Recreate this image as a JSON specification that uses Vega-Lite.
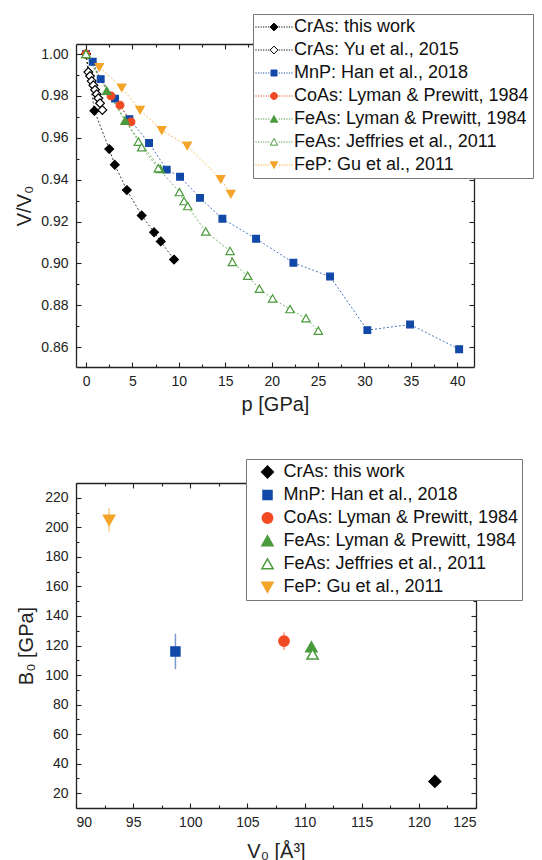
{
  "$schema": "https://vega.github.io/schema/vega-lite/v6.json",
  "padding": {"left": 14, "top": 13, "right": 2, "bottom": 2},
  "background": "white",
  "spacing": 44,
  "config": {
    "view": {"stroke": null},
    "axis": {
      "grid": false,
      "domainColor": "#222222",
      "domainWidth": 1.3,
      "tickColor": "#222222",
      "tickWidth": 1.1,
      "labelFont": "Liberation Sans",
      "labelFontSize": 14,
      "labelColor": "#222222",
      "titleFont": "Liberation Sans",
      "titleFontSize": 20,
      "titleFontWeight": "normal",
      "titleColor": "#222222"
    },
    "legend": {
      "labelFont": "Liberation Sans",
      "labelFontSize": 18,
      "labelColor": "#111111",
      "labelLimit": 400
    }
  },
  "datasets": {
    "eos": [
      {"series": "CrAs: this work", "p": 0, "v": 1.0},
      {"series": "CrAs: this work", "p": 0.9, "v": 0.9729},
      {"series": "CrAs: this work", "p": 2.5, "v": 0.9546},
      {"series": "CrAs: this work", "p": 3.1, "v": 0.9471},
      {"series": "CrAs: this work", "p": 4.4, "v": 0.935},
      {"series": "CrAs: this work", "p": 6.0, "v": 0.9229},
      {"series": "CrAs: this work", "p": 7.33, "v": 0.9149},
      {"series": "CrAs: this work", "p": 8.05, "v": 0.9105},
      {"series": "CrAs: this work", "p": 9.48, "v": 0.9018},
      {"series": "CrAs: Yu et al., 2015", "p": 0, "v": 1.0},
      {"series": "CrAs: Yu et al., 2015", "p": 0.25, "v": 0.9914},
      {"series": "CrAs: Yu et al., 2015", "p": 0.43, "v": 0.9895},
      {"series": "CrAs: Yu et al., 2015", "p": 0.61, "v": 0.9871},
      {"series": "CrAs: Yu et al., 2015", "p": 0.79, "v": 0.9851},
      {"series": "CrAs: Yu et al., 2015", "p": 0.97, "v": 0.9829},
      {"series": "CrAs: Yu et al., 2015", "p": 1.15, "v": 0.9808},
      {"series": "CrAs: Yu et al., 2015", "p": 1.33, "v": 0.9789},
      {"series": "CrAs: Yu et al., 2015", "p": 1.51, "v": 0.9765},
      {"series": "CrAs: Yu et al., 2015", "p": 1.76, "v": 0.9733},
      {"series": "MnP: Han et al., 2018", "p": 0, "v": 1.0},
      {"series": "MnP: Han et al., 2018", "p": 0.72, "v": 0.9963},
      {"series": "MnP: Han et al., 2018", "p": 1.58, "v": 0.988},
      {"series": "MnP: Han et al., 2018", "p": 3.13, "v": 0.9787},
      {"series": "MnP: Han et al., 2018", "p": 4.67, "v": 0.9689},
      {"series": "MnP: Han et al., 2018", "p": 6.79, "v": 0.9575},
      {"series": "MnP: Han et al., 2018", "p": 8.69, "v": 0.9448},
      {"series": "MnP: Han et al., 2018", "p": 10.13, "v": 0.9414},
      {"series": "MnP: Han et al., 2018", "p": 12.28, "v": 0.9313},
      {"series": "MnP: Han et al., 2018", "p": 14.69, "v": 0.9213},
      {"series": "MnP: Han et al., 2018", "p": 18.32, "v": 0.9118},
      {"series": "MnP: Han et al., 2018", "p": 22.34, "v": 0.9003},
      {"series": "MnP: Han et al., 2018", "p": 26.29, "v": 0.8937},
      {"series": "MnP: Han et al., 2018", "p": 30.31, "v": 0.8681},
      {"series": "MnP: Han et al., 2018", "p": 34.91, "v": 0.8708},
      {"series": "MnP: Han et al., 2018", "p": 40.2, "v": 0.859},
      {"series": "CoAs: Lyman & Prewitt, 1984", "p": 0, "v": 1.0},
      {"series": "CoAs: Lyman & Prewitt, 1984", "p": 2.69, "v": 0.98},
      {"series": "CoAs: Lyman & Prewitt, 1984", "p": 3.66, "v": 0.9756},
      {"series": "CoAs: Lyman & Prewitt, 1984", "p": 4.85, "v": 0.9676},
      {"series": "FeAs: Lyman & Prewitt, 1984", "p": 0, "v": 1.0},
      {"series": "FeAs: Lyman & Prewitt, 1984", "p": 2.23, "v": 0.9824},
      {"series": "FeAs: Lyman & Prewitt, 1984", "p": 4.2, "v": 0.9681},
      {"series": "FeAs: Lyman & Prewitt, 1984", "p": 8.0, "v": 0.945},
      {"series": "FeAs: Jeffries et al., 2011", "p": 0, "v": 1.0},
      {"series": "FeAs: Jeffries et al., 2011", "p": 5.64, "v": 0.9581},
      {"series": "FeAs: Jeffries et al., 2011", "p": 6.0, "v": 0.9554},
      {"series": "FeAs: Jeffries et al., 2011", "p": 7.79, "v": 0.9454},
      {"series": "FeAs: Jeffries et al., 2011", "p": 10.06, "v": 0.934},
      {"series": "FeAs: Jeffries et al., 2011", "p": 10.56, "v": 0.9297},
      {"series": "FeAs: Jeffries et al., 2011", "p": 10.96, "v": 0.9273},
      {"series": "FeAs: Jeffries et al., 2011", "p": 12.9, "v": 0.9152},
      {"series": "FeAs: Jeffries et al., 2011", "p": 15.52, "v": 0.9059},
      {"series": "FeAs: Jeffries et al., 2011", "p": 15.77, "v": 0.9006},
      {"series": "FeAs: Jeffries et al., 2011", "p": 17.42, "v": 0.894},
      {"series": "FeAs: Jeffries et al., 2011", "p": 18.68, "v": 0.8878},
      {"series": "FeAs: Jeffries et al., 2011", "p": 20.1, "v": 0.8832},
      {"series": "FeAs: Jeffries et al., 2011", "p": 21.98, "v": 0.8781},
      {"series": "FeAs: Jeffries et al., 2011", "p": 23.7, "v": 0.8737},
      {"series": "FeAs: Jeffries et al., 2011", "p": 25.03, "v": 0.8678},
      {"series": "FeP: Gu et al., 2011", "p": 1.43, "v": 0.9938},
      {"series": "FeP: Gu et al., 2011", "p": 3.84, "v": 0.984},
      {"series": "FeP: Gu et al., 2011", "p": 5.82, "v": 0.9733},
      {"series": "FeP: Gu et al., 2011", "p": 8.15, "v": 0.9636},
      {"series": "FeP: Gu et al., 2011", "p": 10.9, "v": 0.9562},
      {"series": "FeP: Gu et al., 2011", "p": 14.5, "v": 0.9403},
      {"series": "FeP: Gu et al., 2011", "p": 15.6, "v": 0.9332}
    ],
    "bulk": [
      {"series": "CrAs: this work", "V0": 121.4, "B0": 28, "lo": 26, "hi": 30},
      {"series": "MnP: Han et al., 2018", "V0": 98.7, "B0": 116, "lo": 104, "hi": 128},
      {"series": "CoAs: Lyman & Prewitt, 1984", "V0": 108.2, "B0": 123, "lo": 117, "hi": 129},
      {"series": "FeAs: Lyman & Prewitt, 1984", "V0": 110.6, "B0": 119, "lo": 116, "hi": 122},
      {"series": "FeAs: Jeffries et al., 2011", "V0": 110.7, "B0": 114, "lo": 111, "hi": 117},
      {"series": "FeP: Gu et al., 2011", "V0": 92.9, "B0": 205, "lo": 197, "hi": 213}
    ]
  },
  "vconcat": [
    {
      "width": 398,
      "height": 323,
      "layer": [
        {
          "data": {"name": "eos"},
          "mark": {"type": "line", "strokeWidth": 1, "strokeDash": [2, 2], "opacity": 0.75},
          "encoding": {
            "x": {"field": "p", "type": "quantitative",
              "scale": {"domain": [-1.08, 41.8], "nice": false, "zero": false},
              "axis": {"orient": "bottom", "title": "p [GPa]", "titlePadding": 6,
                "values": [0, 2.5, 5, 7.5, 10, 12.5, 15, 17.5, 20, 22.5, 25, 27.5, 30, 32.5, 35, 37.5, 40],
                "labelExpr": "datum.value % 5 === 0 ? datum.label : ''",
                "tickSize": -5, "labelPadding": 12,
                "tickDash": {"condition": {"test": "datum.value % 5 !== 0", "value": [3, 10]}, "value": [8, 0]}}},
            "y": {"field": "v", "type": "quantitative",
              "scale": {"domain": [0.8505, 1.0048], "nice": false, "zero": false},
              "axis": {"orient": "left", "title": "V/V₀", "titlePadding": 6,
                "values": [0.86, 0.87, 0.88, 0.89, 0.9, 0.91, 0.92, 0.93, 0.94, 0.95, 0.96, 0.97, 0.98, 0.99, 1.0],
                "labelExpr": "round(datum.value * 100) % 2 === 0 ? format(datum.value, '.2f') : ''",
                "tickSize": -5, "labelPadding": 13,
                "tickDash": {"condition": {"test": "round(datum.value * 100) % 2 !== 0", "value": [3, 10]}, "value": [8, 0]}}},
            "stroke": {"field": "series", "type": "nominal",
              "scale": {"domain": ["CrAs: this work", "CrAs: Yu et al., 2015", "MnP: Han et al., 2018", "CoAs: Lyman & Prewitt, 1984", "FeAs: Lyman & Prewitt, 1984", "FeAs: Jeffries et al., 2011", "FeP: Gu et al., 2011"],
                "range": ["#000000", "#000000", "#1249a8", "#f04a23", "#4b9a3c", "#4b9a3c", "#f4a428"]},
              "legend": null}
          }
        },
        {
          "data": {"name": "eos"},
          "mark": {"type": "point", "size": 45, "strokeWidth": 1.2, "opacity": 1},
          "encoding": {
            "x": {"field": "p", "type": "quantitative", "axis": null},
            "y": {"field": "v", "type": "quantitative", "axis": null},
            "shape": {"field": "series", "type": "nominal",
              "scale": {"domain": ["CrAs: this work", "CrAs: Yu et al., 2015", "MnP: Han et al., 2018", "CoAs: Lyman & Prewitt, 1984", "FeAs: Lyman & Prewitt, 1984", "FeAs: Jeffries et al., 2011", "FeP: Gu et al., 2011"],
                "range": ["M0,-1.3L1.3,0L0,1.3L-1.3,0Z", "M0,-1.3L1.3,0L0,1.3L-1.3,0Z", "M-1,-1H1V1H-1Z", "M-1.15,0A1.15,1.15,0,1,1,1.15,0A1.15,1.15,0,1,1,-1.15,0Z", "M0,-1.15L1.25,1.05L-1.25,1.05Z", "M0,-1.15L1.25,1.05L-1.25,1.05Z", "M0,1.15L1.25,-1.05L-1.25,-1.05Z"]},
              "legend": null},
            "stroke": {"field": "series", "type": "nominal",
              "scale": {"domain": ["CrAs: this work", "CrAs: Yu et al., 2015", "MnP: Han et al., 2018", "CoAs: Lyman & Prewitt, 1984", "FeAs: Lyman & Prewitt, 1984", "FeAs: Jeffries et al., 2011", "FeP: Gu et al., 2011"],
                "range": ["#000000", "#000000", "#1249a8", "#f04a23", "#4b9a3c", "#4b9a3c", "#f4a428"]},
              "legend": null},
            "fill": {"field": "series", "type": "nominal",
              "scale": {"domain": ["CrAs: this work", "CrAs: Yu et al., 2015", "MnP: Han et al., 2018", "CoAs: Lyman & Prewitt, 1984", "FeAs: Lyman & Prewitt, 1984", "FeAs: Jeffries et al., 2011", "FeP: Gu et al., 2011"],
                "range": ["#000000", "#ffffff", "#1249a8", "#f04a23", "#4b9a3c", "#ffffff", "#f4a428"]},
              "legend": null}
          }
        },
        {
          "data": {"name": "eos"},
          "transform": [{"filter": "datum.p > 1000"}],
          "mark": {"type": "point", "size": 36, "strokeWidth": 1, "opacity": 1},
          "encoding": {
            "x": {"field": "p", "type": "quantitative",
              "axis": {"orient": "top", "title": null, "labels": false,
                "values": [0, 2.5, 5, 7.5, 10, 12.5, 15, 17.5, 20, 22.5, 25, 27.5, 30, 32.5, 35, 37.5, 40],
                "tickSize": -5,
                "tickDash": {"condition": {"test": "datum.value % 5 !== 0", "value": [3, 10]}, "value": [8, 0]}}},
            "y": {"field": "v", "type": "quantitative",
              "axis": {"orient": "right", "title": null, "labels": false,
                "values": [0.86, 0.87, 0.88, 0.89, 0.9, 0.91, 0.92, 0.93, 0.94, 0.95, 0.96, 0.97, 0.98, 0.99, 1.0],
                "tickSize": -5,
                "tickDash": {"condition": {"test": "round(datum.value * 100) % 2 !== 0", "value": [3, 10]}, "value": [8, 0]}}},
            "shape": {"field": "series", "type": "nominal",
              "scale": {"domain": ["CrAs: this work", "CrAs: Yu et al., 2015", "MnP: Han et al., 2018", "CoAs: Lyman & Prewitt, 1984", "FeAs: Lyman & Prewitt, 1984", "FeAs: Jeffries et al., 2011", "FeP: Gu et al., 2011"],
                "range": [
                  "M-6.2,0h0.4M-5.35,0h0.4M-4.5,0h0.4M-3.65,0h0.4M-2.8,0h0.4M-1.95,0h0.4M1.55,0h0.4M2.4,0h0.4M3.25,0h0.4M4.1,0h0.4M4.95,0h0.4M5.8,0h0.4M0,-1.3L1.3,0L0,1.3L-1.3,0Z",
                  "M-6.2,0h0.4M-5.35,0h0.4M-4.5,0h0.4M-3.65,0h0.4M-2.8,0h0.4M-1.95,0h0.4M1.55,0h0.4M2.4,0h0.4M3.25,0h0.4M4.1,0h0.4M4.95,0h0.4M5.8,0h0.4M0,-1.3L1.3,0L0,1.3L-1.3,0Z",
                  "M-6.2,0h0.4M-5.35,0h0.4M-4.5,0h0.4M-3.65,0h0.4M-2.8,0h0.4M-1.95,0h0.4M1.55,0h0.4M2.4,0h0.4M3.25,0h0.4M4.1,0h0.4M4.95,0h0.4M5.8,0h0.4M-1,-1H1V1H-1Z",
                  "M-6.2,0h0.4M-5.35,0h0.4M-4.5,0h0.4M-3.65,0h0.4M-2.8,0h0.4M-1.95,0h0.4M1.55,0h0.4M2.4,0h0.4M3.25,0h0.4M4.1,0h0.4M4.95,0h0.4M5.8,0h0.4M-1.15,0A1.15,1.15,0,1,1,1.15,0A1.15,1.15,0,1,1,-1.15,0Z",
                  "M-6.2,0h0.4M-5.35,0h0.4M-4.5,0h0.4M-3.65,0h0.4M-2.8,0h0.4M-1.95,0h0.4M1.55,0h0.4M2.4,0h0.4M3.25,0h0.4M4.1,0h0.4M4.95,0h0.4M5.8,0h0.4M0,-1.15L1.25,1.05L-1.25,1.05Z",
                  "M-6.2,0h0.4M-5.35,0h0.4M-4.5,0h0.4M-3.65,0h0.4M-2.8,0h0.4M-1.95,0h0.4M1.55,0h0.4M2.4,0h0.4M3.25,0h0.4M4.1,0h0.4M4.95,0h0.4M5.8,0h0.4M0,-1.15L1.25,1.05L-1.25,1.05Z",
                  "M-6.2,0h0.4M-5.35,0h0.4M-4.5,0h0.4M-3.65,0h0.4M-2.8,0h0.4M-1.95,0h0.4M1.55,0h0.4M2.4,0h0.4M3.25,0h0.4M4.1,0h0.4M4.95,0h0.4M5.8,0h0.4M0,1.15L1.25,-1.05L-1.25,-1.05Z"
                ]},
              "legend": {"orient": "none", "legendX": 177, "legendY": -30, "title": null, "symbolSize": 36, "symbolStrokeWidth": 1, "symbolOffset": 8, "labelOffset": 11, "rowPadding": 5, "padding": 4, "fillColor": "white", "strokeColor": "#777777"}},
            "stroke": {"field": "series", "type": "nominal",
              "scale": {"domain": ["CrAs: this work", "CrAs: Yu et al., 2015", "MnP: Han et al., 2018", "CoAs: Lyman & Prewitt, 1984", "FeAs: Lyman & Prewitt, 1984", "FeAs: Jeffries et al., 2011", "FeP: Gu et al., 2011"],
                "range": ["#000000", "#000000", "#1249a8", "#f04a23", "#4b9a3c", "#4b9a3c", "#f4a428"]},
              "legend": {"orient": "none", "legendX": 177, "legendY": -30, "title": null, "symbolSize": 36, "symbolStrokeWidth": 1, "symbolOffset": 8, "labelOffset": 11, "rowPadding": 5, "padding": 4, "fillColor": "white", "strokeColor": "#777777"}},
            "fill": {"field": "series", "type": "nominal",
              "scale": {"domain": ["CrAs: this work", "CrAs: Yu et al., 2015", "MnP: Han et al., 2018", "CoAs: Lyman & Prewitt, 1984", "FeAs: Lyman & Prewitt, 1984", "FeAs: Jeffries et al., 2011", "FeP: Gu et al., 2011"],
                "range": ["#000000", "#ffffff", "#1249a8", "#f04a23", "#4b9a3c", "#ffffff", "#f4a428"]},
              "legend": {"orient": "none", "legendX": 177, "legendY": -30, "title": null, "symbolSize": 36, "symbolStrokeWidth": 1, "symbolOffset": 8, "labelOffset": 11, "rowPadding": 5, "padding": 4, "fillColor": "white", "strokeColor": "#777777"}}
          }
        }
      ],
      "resolve": {
        "scale": {"shape": "independent", "stroke": "independent", "fill": "independent"},
        "axis": {"x": "independent", "y": "independent"}
      }
    },
    {
      "width": 400,
      "height": 325,
      "data": {"name": "bulk"},
      "layer": [
        {
          "mark": {"type": "rule", "strokeWidth": 1.5, "opacity": 0.55},
          "encoding": {
            "x": {"field": "V0", "type": "quantitative",
              "scale": {"domain": [90, 125], "nice": false, "zero": false},
              "axis": {"orient": "top", "title": null, "labels": false,
                "values": [90, 92.5, 95, 97.5, 100, 102.5, 105, 107.5, 110, 112.5, 115, 117.5, 120, 122.5, 125],
                "tickSize": -5,
                "tickDash": {"condition": {"test": "datum.value % 5 !== 0", "value": [3, 10]}, "value": [8, 0]}}},
            "y": {"field": "lo", "type": "quantitative",
              "scale": {"domain": [10, 230], "nice": false, "zero": false},
              "axis": {"orient": "right", "title": null, "labels": false,
                "values": [20, 30, 40, 50, 60, 70, 80, 90, 100, 110, 120, 130, 140, 150, 160, 170, 180, 190, 200, 210, 220],
                "tickSize": -5,
                "tickDash": {"condition": {"test": "datum.value % 20 !== 0", "value": [3, 10]}, "value": [8, 0]}}},
            "y2": {"field": "hi"},
            "stroke": {"field": "series", "type": "nominal",
              "scale": {"domain": ["CrAs: this work", "MnP: Han et al., 2018", "CoAs: Lyman & Prewitt, 1984", "FeAs: Lyman & Prewitt, 1984", "FeAs: Jeffries et al., 2011", "FeP: Gu et al., 2011"],
                "range": ["#000000", "#1249a8", "#f04a23", "#4b9a3c", "#4b9a3c", "#f4a428"]},
              "legend": null}
          }
        },
        {
          "mark": {"type": "point", "size": 81, "strokeWidth": 1.5, "opacity": 1},
          "encoding": {
            "x": {"field": "V0", "type": "quantitative",
              "axis": {"orient": "bottom", "title": "V₀ [Å³]", "titlePadding": 12,
                "values": [90, 92.5, 95, 97.5, 100, 102.5, 105, 107.5, 110, 112.5, 115, 117.5, 120, 122.5, 125],
                "labelExpr": "datum.value % 5 === 0 ? datum.label : ''",
                "tickSize": -5, "labelPadding": 12,
                "tickDash": {"condition": {"test": "datum.value % 5 !== 0", "value": [3, 10]}, "value": [8, 0]}}},
            "y": {"field": "B0", "type": "quantitative",
              "axis": {"orient": "left", "title": "B₀ [GPa]", "titlePadding": 8,
                "values": [20, 30, 40, 50, 60, 70, 80, 90, 100, 110, 120, 130, 140, 150, 160, 170, 180, 190, 200, 210, 220],
                "labelExpr": "datum.value % 20 === 0 ? datum.label : ''",
                "tickSize": -5, "labelPadding": 13,
                "tickDash": {"condition": {"test": "datum.value % 20 !== 0", "value": [3, 10]}, "value": [8, 0]}}},
            "shape": {"field": "series", "type": "nominal",
              "scale": {"domain": ["CrAs: this work", "MnP: Han et al., 2018", "CoAs: Lyman & Prewitt, 1984", "FeAs: Lyman & Prewitt, 1984", "FeAs: Jeffries et al., 2011", "FeP: Gu et al., 2011"],
                "range": ["M0,-1.3L1.3,0L0,1.3L-1.3,0Z", "M-1,-1H1V1H-1Z", "M-1.15,0A1.15,1.15,0,1,1,1.15,0A1.15,1.15,0,1,1,-1.15,0Z", "M0,-1.15L1.25,1.05L-1.25,1.05Z", "M0,-1.15L1.25,1.05L-1.25,1.05Z", "M0,1.15L1.25,-1.05L-1.25,-1.05Z"]},
              "legend": {"orient": "none", "legendX": 170, "legendY": -24, "title": null, "symbolSize": 81, "symbolStrokeWidth": 1.5, "symbolOffset": 8.5, "labelOffset": 7, "rowPadding": 5, "padding": 4, "fillColor": "white", "strokeColor": "#777777"}},
            "stroke": {"field": "series", "type": "nominal",
              "scale": {"domain": ["CrAs: this work", "MnP: Han et al., 2018", "CoAs: Lyman & Prewitt, 1984", "FeAs: Lyman & Prewitt, 1984", "FeAs: Jeffries et al., 2011", "FeP: Gu et al., 2011"],
                "range": ["#000000", "#1249a8", "#f04a23", "#4b9a3c", "#4b9a3c", "#f4a428"]},
              "legend": {"orient": "none", "legendX": 170, "legendY": -24, "title": null, "symbolSize": 81, "symbolStrokeWidth": 1.5, "symbolOffset": 8.5, "labelOffset": 7, "rowPadding": 5, "padding": 4, "fillColor": "white", "strokeColor": "#777777"}},
            "fill": {"field": "series", "type": "nominal",
              "scale": {"domain": ["CrAs: this work", "MnP: Han et al., 2018", "CoAs: Lyman & Prewitt, 1984", "FeAs: Lyman & Prewitt, 1984", "FeAs: Jeffries et al., 2011", "FeP: Gu et al., 2011"],
                "range": ["#000000", "#1249a8", "#f04a23", "#4b9a3c", "#ffffff", "#f4a428"]},
              "legend": {"orient": "none", "legendX": 170, "legendY": -24, "title": null, "symbolSize": 81, "symbolStrokeWidth": 1.5, "symbolOffset": 8.5, "labelOffset": 7, "rowPadding": 5, "padding": 4, "fillColor": "white", "strokeColor": "#777777"}}
          }
        }
      ],
      "resolve": {
        "scale": {"shape": "independent", "stroke": "independent", "fill": "independent"},
        "axis": {"x": "independent", "y": "independent"}
      }
    }
  ],
  "resolve": {
    "scale": {"shape": "independent", "stroke": "independent", "fill": "independent"},
    "legend": {"shape": "independent", "stroke": "independent", "fill": "independent"}
  }
}
